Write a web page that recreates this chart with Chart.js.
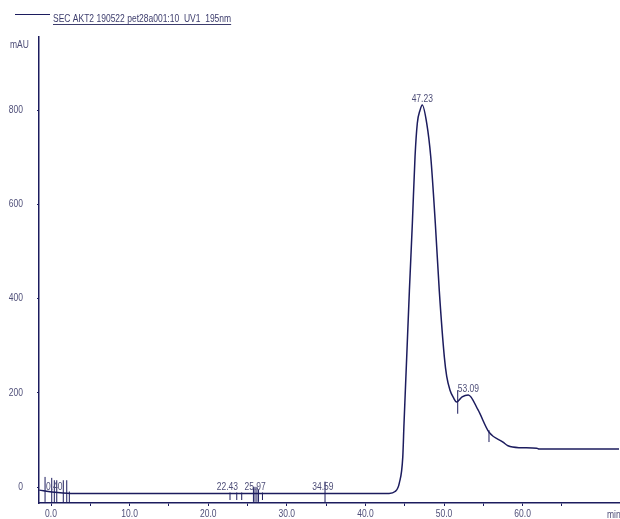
<!DOCTYPE html>
<html>
<head>
<meta charset="utf-8">
<script src="https://cdn.jsdelivr.net/npm/chart.js@4/dist/chart.umd.min.js"></script>
<style>
  body { margin: 0; background: #fff; }
  #wrap { width: 620px; height: 519px; }
</style>
</head>
<body>
<div id="wrap"><canvas id="chrom" width="620" height="519"></canvas></div>
<script>
// trace (min, mAU)
const times = [-1.5, 0.1, 2.5, 10, 20, 30, 40, 43.0, 43.77, 44.31, 44.75, 44.91, 45.25, 45.59, 45.97, 46.31, 46.6, 46.95, 47.23, 47.8, 48.31, 48.89, 49.4, 50.04, 50.34, 50.76, 51.2, 51.6, 52.3, 53.09, 54.33, 55.72, 57.5, 58.14, 59.7, 61.8, 62.1, 66, 72.3];
const absorbance = [-6, -10, -13, -13, -13, -13, -13, -13, -9, 9, 64, 136, 276, 416, 560, 701, 772, 800, 811, 772, 701, 560, 416, 276, 235, 206, 190, 181, 192, 196, 164, 117, 96, 88, 84, 83, 81, 81, 81];

// integration marks
const markTimes = [-0.76, 0.09, 0.42, 0.73, 1.56, 2.0, 2.33, 22.77, 23.63, 24.26, 25.75, 25.95, 26.2, 26.4, 26.9, 34.86, 51.74, 55.72];
const markLow = [-31, -33, -33, -33, -33, -33, -33, -27, -27, -27, -31, -31, -31, -31, -27, -33, 156, 96];
const markHigh = [22, 20, 15, 15, 15, 15, -9, -11, -11, -11, 1, 1, 1, -5, -11, 12, 206, 121];

// peak labels
const peakTimes = [0.40, 22.43, 25.97, 34.59, 47.23, 53.09];
const peakValues = [-13, -13, -13, -13, 811, 196];

const xTicks = [0, 5, 10, 15, 20, 25, 30, 35, 40, 45, 50, 55, 60, 65];
const xLabels = [0, 10, 20, 30, 40, 50, 60];
const yTicks = [0, 200, 400, 600, 800];

const traceName = "SEC AKT2 190522 pet28a001:10  UV1  195nm";

const navy = "#1c1c5e";
const textCol = "#4e4e78";
const fontFam = "'Liberation Sans', Arial, sans-serif";
const squeeze = 0.85;

// narrow text: the original uses a condensed face
function narrowText(ctx, str, x, y, align) {
  const w = ctx.measureText(str).width * squeeze;
  let left = x;
  if (align === "center") left = x - w / 2;
  if (align === "right") left = x - w;
  ctx.save();
  ctx.textAlign = "left";
  ctx.translate(left, y);
  ctx.scale(squeeze, 1);
  ctx.fillText(str, 0, 0);
  ctx.restore();
  return w;
}

const datasets = [{
  data: times.map((t, i) => ({ x: t, y: absorbance[i] })),
  borderColor: navy,
  borderWidth: 1.5,
  pointRadius: 0,
  cubicInterpolationMode: "monotone"
}];
markTimes.forEach((t, i) => {
  datasets.push({
    data: [{ x: t, y: markLow[i] }, { x: t, y: markHigh[i] }],
    borderColor: navy,
    borderWidth: 1,
    pointRadius: 0
  });
});

const decor = {
  id: "decor",
  afterDraw(chart) {
    const ctx = chart.ctx;
    const xs = chart.scales.x, ys = chart.scales.y;
    ctx.save();
    // legend line + title
    ctx.strokeStyle = navy;
    ctx.lineWidth = 1;
    ctx.beginPath();
    ctx.moveTo(15, 14.5);
    ctx.lineTo(50, 14.5);
    ctx.stroke();
    ctx.font = "10px " + fontFam;
    ctx.fillStyle = "#3c3c6c";
    ctx.textBaseline = "alphabetic";
    const w = narrowText(ctx, traceName, 53, 22, "left");
    ctx.strokeStyle = "#3c3c6c";
    ctx.beginPath();
    ctx.moveTo(53, 24.5);
    ctx.lineTo(53 + w, 24.5);
    ctx.stroke();
    // axis labels
    ctx.fillStyle = textCol;
    narrowText(ctx, "mAU", 10, 48, "left");
    narrowText(ctx, "min", 607, 518, "left");
    ctx.textBaseline = "middle";
    yTicks.forEach(v => narrowText(ctx, String(v), 23, ys.getPixelForValue(v), "right"));
    xLabels.forEach(v => narrowText(ctx, v.toFixed(1), xs.getPixelForValue(v), 514, "center"));
    // peak labels
    ctx.textBaseline = "bottom";
    peakTimes.forEach((t, i) => {
      narrowText(ctx, t.toFixed(2), xs.getPixelForValue(t), ys.getPixelForValue(peakValues[i]) - 1, "center");
    });
    ctx.restore();
  }
};

new Chart(document.getElementById("chrom"), {
  type: "line",
  data: { datasets },
  options: {
    responsive: false,
    animation: false,
    layout: { padding: { top: 37, left: 0, right: 1, bottom: 0 } },
    plugins: { legend: { display: false }, tooltip: { enabled: false } },
    scales: {
      x: {
        type: "linear",
        min: -1.53,
        max: 72.26,
        afterFit: s => { s.height = 16; },
        afterBuildTicks: s => { s.ticks = xTicks.map(v => ({ value: v })); },
        border: { color: navy, width: 1.5 },
        grid: { drawOnChartArea: false, color: navy, tickLength: 3 },
        ticks: { display: false }
      },
      y: {
        min: -33.3,
        max: 955,
        afterFit: s => { s.width = 39; },
        afterBuildTicks: s => { s.ticks = yTicks.map(v => ({ value: v })); },
        border: { color: navy, width: 1.5 },
        grid: { drawOnChartArea: false, color: navy, tickLength: 2 },
        ticks: { display: false }
      }
    }
  },
  plugins: [decor]
});
</script>
</body>
</html>
